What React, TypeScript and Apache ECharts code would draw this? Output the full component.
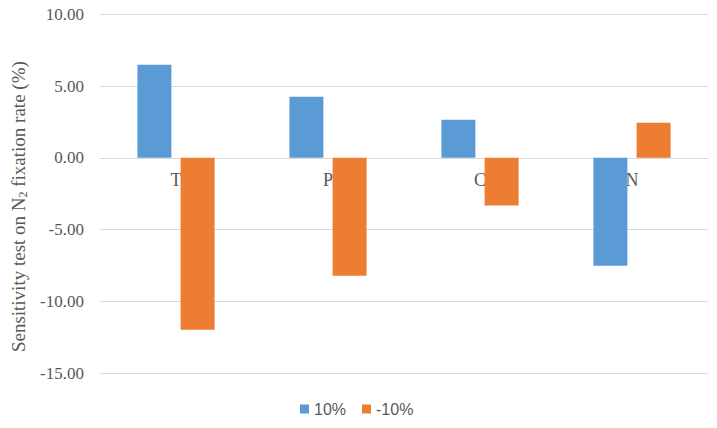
import React, { useEffect, useRef } from "react";
import * as echarts from "echarts";

const categories = ["T", "P", "C", "N"];
const seriesNames = ["10%", "-10%"];
const plus10 = [6.48, 4.25, 2.65, -7.52];
const minus10 = [-11.98, -8.22, -3.32, 2.44];
const yMin = -15;
const yMax = 10;
const yInterval = 5;

const SERIF = "Liberation Serif";
const SANS = "Liberation Sans";

export default function App() {
  const ref = useRef<HTMLDivElement>(null);
  useEffect(() => {
    if (!ref.current) return;
    const chart = echarts.init(ref.current, null, { renderer: "svg" });
    const H = 428;
    const gTop = 14.3;
    const gBottom = 55;
    const plotH = H - gTop - gBottom;
    const zeroFromBottom = plotH * ((0 - yMin) / (yMax - yMin));
    chart.setOption({
      animation: false,
      backgroundColor: "#ffffff",
      grid: { left: 100, right: 9, top: gTop, bottom: gBottom, containLabel: false },
      legend: {
        bottom: 6,
        left: 295,
        itemWidth: 9,
        itemHeight: 9,
        itemGap: 16,
        icon: "rect",
        textStyle: { fontFamily: SANS, fontSize: 16, color: "#595959" },
        data: seriesNames,
      },
      xAxis: {
        type: "category",
        data: categories,
        offset: -zeroFromBottom,
        axisLine: { onZero: false, lineStyle: { color: "#d9d9d9" } },
        axisTick: { show: false },
        axisLabel: { margin: 13, fontFamily: SERIF, fontSize: 18, color: "#595959" },
      },
      yAxis: {
        type: "value",
        min: yMin,
        max: yMax,
        interval: yInterval,
        name: "{a|Sensitivity test on N}{s|2}{a| fixation rate (%)}",
        nameLocation: "middle",
        nameRotate: 90,
        nameGap: 70,
        nameTextStyle: {
          fontFamily: SERIF,
          fontSize: 19,
          color: "#595959",
          padding: [0, 26, 0, 0],
          rich: {
            a: { fontFamily: SERIF, fontSize: 19, color: "#595959" },
            s: { fontFamily: SERIF, fontSize: 12, color: "#595959", verticalAlign: "bottom", padding: [9, 0, 0, 0] },
          },
        },
        axisLine: { show: false },
        axisTick: { show: false },
        axisLabel: {
          margin: 16,
          fontFamily: SERIF,
          fontSize: 17,
          color: "#595959",
          formatter: (v: number) => v.toFixed(2),
        },
        splitLine: { lineStyle: { color: "#d9d9d9" } },
      },
      series: [
        { name: seriesNames[0], type: "bar", data: plus10, barWidth: 34, barGap: "27%", itemStyle: { color: "#5B9BD5" } },
        { name: seriesNames[1], type: "bar", data: minus10, barWidth: 34, barGap: "27%", itemStyle: { color: "#ED7D31" } },
      ],
    });
    return () => chart.dispose();
  }, []);
  return <div ref={ref} style={{ width: 717, height: 428, position: "absolute", left: 0, top: 0 }} />;
}
